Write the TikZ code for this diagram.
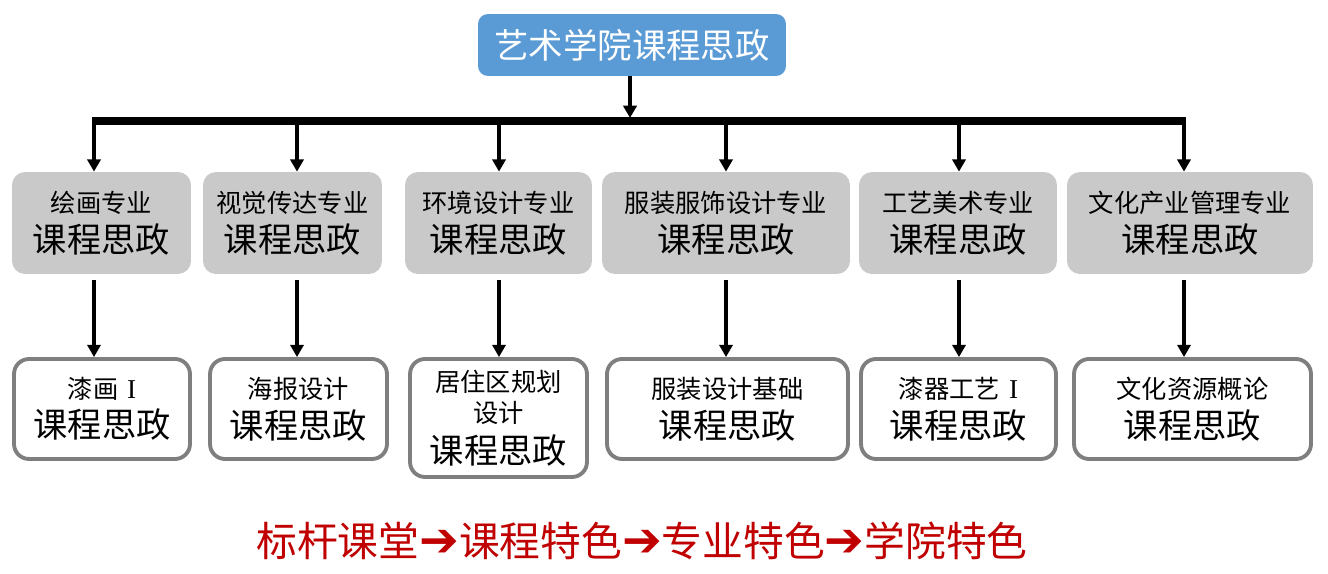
\documentclass[tikz,border=0pt]{standalone}
\usepackage{fontspec}
\setmainfont{Noto Sans CJK SC}
\newfontfamily\arrowfont{DejaVu Sans}
\newfontfamily\romanfont{Liberation Serif}
\usetikzlibrary{arrows.meta}
\definecolor{topblue}{HTML}{5B9BD5}
\definecolor{majorgray}{HTML}{C9C9C9}
\definecolor{edgegray}{HTML}{7F7F7F}
\definecolor{slogred}{HTML}{C00000}
\newcommand{\smallline}{\fontsize{14.4}{18}\selectfont}
\newcommand{\bigline}{\fontsize{19.5}{24}\selectfont}
\newcommand{\numI}{\hspace{0.35em}{\romanfont\fontsize{15.5}{20}\selectfont I}}
\newcommand{\slogarrow}{{\arrowfont\fontsize{27}{26}\selectfont ➔}}

\begin{document}
\begin{tikzpicture}[x=0.02cm, y=-0.02cm,
  topbox/.style={fill=topblue, rounded corners=0.2cm, text=white, minimum width=6.16cm, minimum height=1.24cm, font=\fontsize{19.6}{22}\selectfont},
  majorbox/.style={fill=majorgray, rounded corners=0.26cm, minimum height=2.04cm, align=center, inner sep=0pt},
  coursebox/.style={draw=edgegray, line width=2.2pt, fill=white, rounded corners=0.3cm, minimum height=2.0cm, align=center, inner sep=0pt},
  arrow/.style={line width=2pt, -{Triangle[length=7pt, width=7.5pt]}}]
\useasboundingbox (0,0) rectangle (1328,574);
% Top
\node [topbox] (college) at (632,45) {艺术学院课程思政};
% Bus
\coordinate (b1) at (94,121);
\coordinate (b6) at (1184,121);
\draw [line width=4pt] ([xshift=-1pt]b1) -- ([xshift=1pt]b6);
\draw [arrow] (college.south -| 630,0) -- (630,118);
% Majors
\node [majorbox, minimum width=3.58cm] (m1) at (101.5,223) {\smallline 绘画专业\\[4pt]\bigline 课程思政};
\node [majorbox, minimum width=3.58cm] (m2) at (292.5,223) {\smallline 视觉传达专业\\[4pt]\bigline 课程思政};
\node [majorbox, minimum width=3.74cm] (m3) at (498.5,223) {\smallline 环境设计专业\\[4pt]\bigline 课程思政};
\node [majorbox, minimum width=4.96cm] (m4) at (726,223) {\smallline 服装服饰设计专业\\[4pt]\bigline 课程思政};
\node [majorbox, minimum width=3.96cm] (m5) at (958,223) {\smallline 工艺美术专业\\[4pt]\bigline 课程思政};
\node [majorbox, minimum width=4.92cm] (m6) at (1190,223) {\smallline 文化产业管理专业\\[4pt]\bigline 课程思政};
% Courses
\node [coursebox, minimum width=3.52cm] (c1) at (102,409) {\smallline 漆画\numI\\[4pt]\bigline 课程思政};
\node [coursebox, minimum width=3.54cm] (c2) at (298.5,409) {\smallline 海报设计\\[4pt]\bigline 课程思政};
\node [coursebox, minimum width=3.54cm, minimum height=2.36cm] (c3) at (498.5,418) {\smallline 居住区规划\\[3.5pt]\smallline 设计\\[4.5pt]\bigline 课程思政};
\node [coursebox, minimum width=4.82cm] (c4) at (727.5,409) {\smallline 服装设计基础\\[4pt]\bigline 课程思政};
\node [coursebox, minimum width=3.9cm] (c5) at (958.5,409) {\smallline 漆器工艺\numI\\[4pt]\bigline 课程思政};
\node [coursebox, minimum width=4.74cm] (c6) at (1192.5,409) {\smallline 文化资源概论\\[4pt]\bigline 课程思政};
% Arrows
\foreach \i/\x in {1/94, 2/297, 3/499, 4/726, 5/959, 6/1184} {
  \draw [arrow] (\x,121) -- (m\i.north -| \x,0);
  \draw [arrow] ([yshift=-0.12cm]m\i.south -| \x,0) -- (c\i.north -| \x,0);
}
% Slogan
\node [text=slogred, font=\fontsize{23.2}{26}\selectfont] (slogan) at (642,541) {标杆课堂\slogarrow 课程特色\slogarrow 专业特色\slogarrow 学院特色};
\end{tikzpicture}
\end{document}
